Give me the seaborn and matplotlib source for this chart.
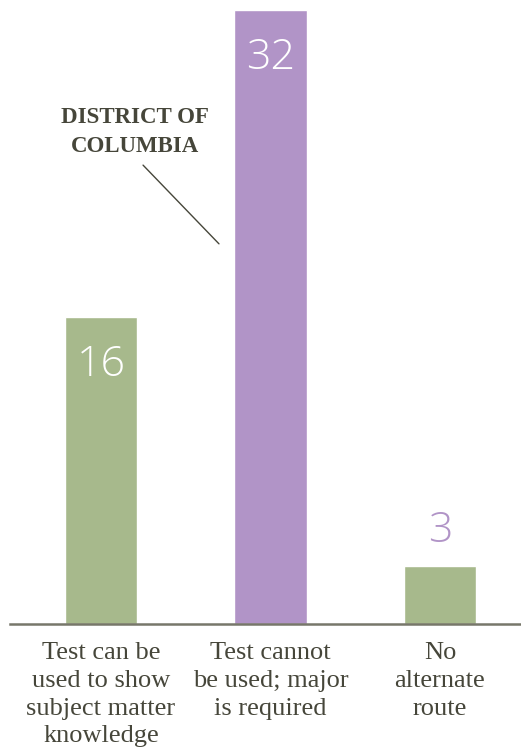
import matplotlib
matplotlib.use("Agg")
import matplotlib.pyplot as plt
from matplotlib import font_manager as fm
import seaborn as sns
import pandas as pd

categories = ["Test can be\nused to show\nsubject matter\nknowledge",
              "Test cannot\nbe used; major\nis required",
              "No\nalternate\nroute"]
values = [16, 32, 3]
bar_colors = ["#a7b98c", "#b194c7", "#a7b98c"]
annotation_text = "DISTRICT OF\nCOLUMBIA"

sns.set_theme(style="white")
plt.rcParams["font.family"] = ["DejaVu Sans"]

W, H = 521, 749
fig = plt.figure(figsize=(W / 100, H / 100), dpi=100)
ax = fig.add_axes([10 / W, (H - 624) / H, 511 / W, 624 / H])

df = pd.DataFrame({"cat": categories, "val": values})
sns.barplot(data=df, x="cat", y="val", hue="cat", palette=bar_colors,
            legend=False, width=0.425, saturation=1, ax=ax)

ax.set_xlim(-0.537, 2.478)
ax.set_ylim(0, 32.5)
ax.set_xlabel("")
ax.set_ylabel("")
ax.set_yticks([])
for s in ["top", "left", "right"]:
    ax.spines[s].set_visible(False)
ax.spines["bottom"].set_color("#77776a")
ax.spines["bottom"].set_linewidth(1.8)
ax.tick_params(axis="x", length=0, pad=13)
text_col = "#46463a"
serif_fp = fm.FontProperties(family=["Liberation Serif", "DejaVu Serif"], size=19)
ax.set_xticks(range(len(categories)))
ax.set_xticklabels(categories, fontproperties=serif_fp, color=text_col,
                   linespacing=1.34, va="top")

num_fp = dict(family=["Open Sans", "DejaVu Sans"], weight="light", size=31)
px_per_unit = 624 / 32.5
for i, v in enumerate(values):
    if v > 8:
        ax.text(i, v - 48 / px_per_unit, str(v), ha="center", va="center",
                color="white", fontproperties=fm.FontProperties(**num_fp))
    else:
        ax.text(i, v + 36 / px_per_unit, str(v), ha="center", va="center",
                color=bar_colors[1], fontproperties=fm.FontProperties(**num_fp))

ann_fp = fm.FontProperties(family=["Liberation Serif", "DejaVu Serif"], weight="bold", size=16.5)
ax.text(0.2, 25.6, annotation_text, ha="center", va="center",
        fontproperties=ann_fp, color=text_col, linespacing=1.5)
ax.annotate("", xy=(0.696, 19.8), xytext=(0.248, 23.9),
            arrowprops=dict(arrowstyle="-", color="#46463a", lw=1.0,
                            shrinkA=0, shrinkB=0))

fig.savefig("out.png", dpi=100)
